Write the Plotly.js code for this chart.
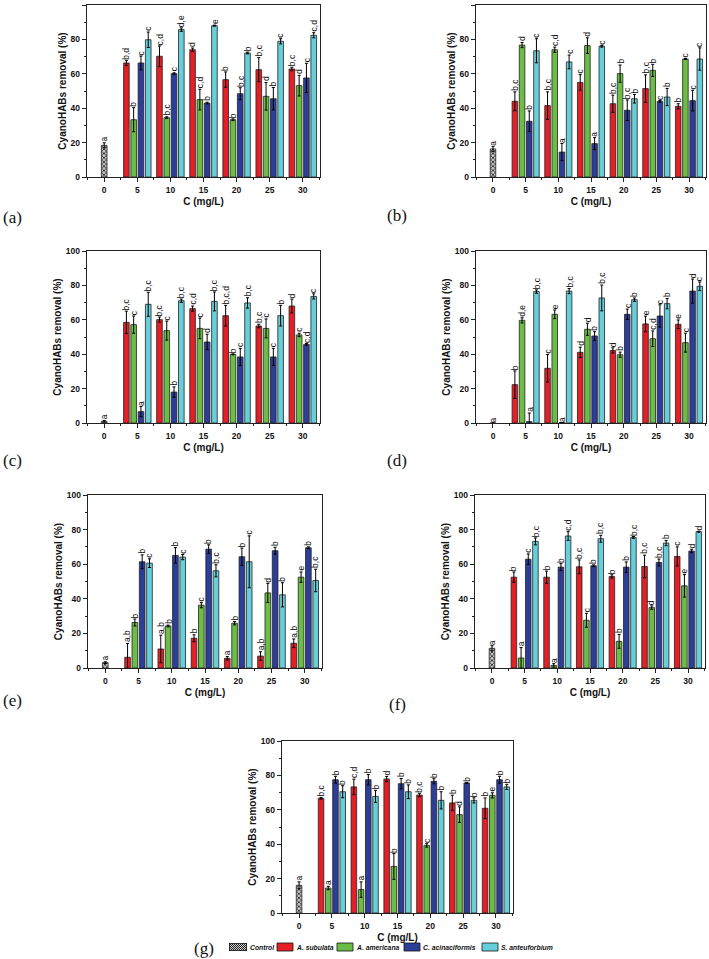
<!DOCTYPE html>
<html>
<head>
<meta charset="utf-8">
<script src="https://cdn.plot.ly/plotly-3.0.1.min.js"></script>
<style>
  html, body { margin: 0; padding: 0; background: #fff; }
  #chart { width: 709px; height: 959px; }
</style>
</head>
<body>
<div id="chart"></div>
<script>
// ---------------- DATA ----------------
const seriesNames = ['A. subulata', 'A. americana', 'C. acinaciformis', 'S. anteuforbium'];
const controlName = 'Control';
const concentrations = [5, 10, 15, 20, 25, 30];
const xTicks = [0, 5, 10, 15, 20, 25, 30];
const panelLabels = ['(a)', '(b)', '(c)', '(d)', '(e)', '(f)', '(g)'];

// Panel (a)
const a_ctrl = [18.4], a_ctrlErr = [1.5], a_ctrlSig = ['a'];
const a_sub = [66.3, 70.2, 74.0, 56.6, 62.4, 62.8], a_subErr = [1.5, 6, 1, 4.5, 7, 1], a_subSig = ['b,d', 'c,d', 'd', 'b', 'b,c', 'b,c'];
const a_ame = [33.3, 34.5, 45.0, 33.3, 46.9, 53.1], a_ameErr = [7, 0.5, 6, 0.5, 8, 6], a_ameSig = ['b', 'b,c', 'c,d', 'b', 'd', 'd'];
const a_aci = [66.3, 60.1, 43.0, 48.4, 45.5, 57.6], a_aciErr = [4, 0.5, 0.5, 3.5, 6.5, 8.5], a_aciSig = ['c', 'c', 'b', 'b,c', 'b', 'c'];
const a_ant = [79.8, 85.7, 88.0, 72.1, 78.9, 82.4], a_antErr = [4.5, 1, 0.3, 0.5, 1.5, 1.5], a_antSig = ['c', 'd,e', 'e', 'b', 'c', 'c,d'];

// Panel (b)
const b_ctrl = [16.3], b_ctrlErr = [1.5], b_ctrlSig = ['a'];
const b_sub = [44.0, 41.5, 55.0, 42.6, 51.4, 41.1], b_subErr = [5.5, 8, 4.5, 5, 8, 1.5], b_subSig = ['b,c', 'b,c', 'c', 'b,c', 'b,c', 'b'];
const b_ame = [76.7, 74.0, 76.4, 60.1, 62.0, 68.6], b_ameErr = [1.5, 1.5, 4.5, 5, 3.5, 0.3], b_ameSig = ['d', 'c,d', 'd', 'b', 'b', 'c'];
const b_aci = [32.4, 14.5, 19.4, 38.8, 44.0, 44.4], b_aciErr = [6, 5, 3.5, 6, 0.5, 6], b_aciSig = ['b', 'a', 'a', 'b,c', 'c', 'c'];
const b_ant = [73.4, 66.9, 76.0, 45.5, 46.5, 68.6], b_antErr = [7, 4, 0.5, 2.5, 5, 6.5], b_antSig = ['c', 'c', 'c', 'b', 'b', 'c'];

// Panel (c)
const c_ctrl = [1.0], c_ctrlErr = [0.5], c_ctrlSig = ['a'];
const c_sub = [58.5, 60.1, 66.5, 62.4, 56.4, 68.0], c_subErr = [6.5, 1.5, 1.5, 6, 1, 4], c_subSig = ['b,c', 'b,c', 'c,d', 'b,c,d', 'b,c', 'd'];
const c_ame = [57.2, 53.7, 55.0, 39.9, 55.0, 51.2], c_ameErr = [5, 5.5, 6, 0.3, 5.5, 1], c_ameSig = ['c', 'c', 'c', 'b', 'c', 'c'];
const c_aci = [6.6, 18.0, 47.1, 38.4, 38.4, 45.7], c_aciErr = [3, 3, 4.5, 5, 5, 0.5], c_aciSig = ['a', 'b', 'd', 'c', 'c', 'c,d'];
const c_ant = [69.0, 71.1, 70.7, 69.8, 62.4, 73.6], c_antErr = [7, 1, 5.5, 3, 6, 1.5], c_antSig = ['b,c', 'b,c', 'b,c', 'b,c', 'b', 'c'];

// Panel (d)
const d_ctrl = [0], d_ctrlErr = [0], d_ctrlSig = ['a'];
const d_sub = [22.3, 31.8, 41.1, 42.2, 57.6, 57.4], d_subErr = [8, 8, 3, 1.5, 4.5, 2.5], d_subSig = ['b', 'c', 'd', 'd', 'e', 'e'];
const d_ame = [59.7, 63.2, 54.5, 39.7, 49.0, 46.7], d_ameErr = [1.5, 2.5, 3.5, 1.5, 4.5, 5.5], d_ameSig = ['d,e', 'e', 'd', 'b', 'c,d', 'c'];
const d_aci = [0.8, 0.3, 50.6, 63.2, 62.2, 76.7], d_aciErr = [5, 0, 2.5, 3, 6.5, 7], d_aciSig = ['a', 'a', 'b', 'c', 'c', 'd'];
const d_ant = [76.4, 76.7, 72.7, 71.7, 69.4, 79.5], d_antErr = [1, 1.5, 7.5, 1, 3, 2.5], d_antSig = ['b,c', 'b,c', 'b,c', 'b', 'b', 'c'];

// Panel (e)
const e_ctrl = [3.1], e_ctrlErr = [0.5], e_ctrlSig = ['a'];
const e_sub = [6.2, 11.0, 17.2, 5.6, 6.9, 14.3], e_subErr = [8, 8, 2, 1, 2.5, 2.5], e_subSig = ['a,b', 'a,b', 'b', 'a', 'a,b', 'a,b'];
const e_ame = [26.3, 24.3, 36.3, 25.9, 43.4, 52.5], e_ameErr = [2, 0.5, 1.5, 1, 5.5, 3], e_ameSig = ['b', 'b', 'c', 'b', 'd', 'e'];
const e_aci = [61.4, 65.1, 68.7, 64.3, 67.8, 69.5], e_aciErr = [4, 4.5, 2.5, 5, 2, 0.5], e_aciSig = ['b', 'b', 'b', 'b', 'b', 'b'];
const e_ant = [60.6, 64.1, 56.2, 61.4, 42.3, 50.6], e_antErr = [2.5, 1.5, 3.5, 15, 7, 6.5], e_antSig = ['c', 'c', 'b,c', 'c', 'b', 'b,c'];

// Panel (f)
const f_ctrl = [11.4], f_ctrlErr = [1.5], f_ctrlSig = ['a'];
const f_sub = [52.5, 52.5, 58.5, 52.9, 58.7, 64.5], f_subErr = [3, 3.5, 4, 1, 6.5, 5.5], f_subSig = ['b', 'b', 'b,c', 'b', 'b,c', 'c'];
const f_ame = [5.8, 1.5, 27.6, 15.4, 34.9, 47.5], f_ameErr = [6, 1, 4, 4, 1, 6.5], f_ameSig = ['a', 'a', 'c', 'b', 'd', 'e'];
const f_aci = [62.9, 58.3, 59.1, 58.3, 61.0, 67.6], f_aciErr = [3, 2, 0.5, 3, 2, 1], f_aciSig = ['c', 'b', 'b', 'b', 'b,c', 'd'];
const f_ant = [73.2, 76.3, 74.7, 75.5, 72.2, 78.8], f_antErr = [2, 2.5, 2, 0.5, 1.5, 0.3], f_antSig = ['b,c', 'c,d', 'b,c', 'b,c', 'b', 'd'];

// Panel (g)
const g_ctrl = [16.1], g_ctrlErr = [2], g_ctrlSig = ['a'];
const g_sub = [66.7, 73.3, 77.9, 68.6, 64.0, 60.9], g_subErr = [0.5, 4.5, 1.5, 1, 4.5, 6], g_subSig = ['b,c', 'c,d', 'd', 'b,c', 'b', 'b'];
const g_ame = [14.5, 13.6, 27.1, 39.3, 57.2, 68.4], g_ameErr = [1, 4.5, 7.5, 1, 4.5, 1.5], g_ameSig = ['a', 'a', 'b', 'c', 'd', 'e'];
const g_aci = [77.5, 77.5, 75.2, 76.6, 75.6, 77.5], g_aciErr = [2, 3, 3, 1.5, 0.3, 2], g_aciSig = ['b', 'b', 'b', 'b', 'b', 'b'];
const g_ant = [70.5, 67.8, 70.5, 65.5, 65.5, 73.3], g_antErr = [3.5, 3.5, 4, 5, 1.5, 1.5], g_antSig = ['b', 'b', 'b', 'b', 'b', 'b'];

// ---------------- STYLE / LAYOUT ----------------
const W = 709, H = 959;
const colors = ['#e41f26', '#6cbd45', '#2c3e98', '#67cfd9'];
const BW = 0.85, SLOT = 1.1;
const offsets = [-2 * SLOT + (SLOT - BW) / 2, -SLOT + (SLOT - BW) / 2, (SLOT - BW) / 2, SLOT + (SLOT - BW) / 2];
const SANS = 'Arial, "Liberation Sans", Helvetica, sans-serif';
const SERIF = '"Times New Roman", "Liberation Serif", serif';

// pixel boxes [left, right, top, bottom] and panel label centre [x, y]
const panels = [
  { box: [87, 320, 5, 177],   lab: [12, 217],  d: [a_ctrl, a_ctrlErr, a_ctrlSig, [a_sub, a_ame, a_aci, a_ant], [a_subErr, a_ameErr, a_aciErr, a_antErr], [a_subSig, a_ameSig, a_aciSig, a_antSig]] },
  { box: [476, 706, 5, 177],  lab: [397, 216], d: [b_ctrl, b_ctrlErr, b_ctrlSig, [b_sub, b_ame, b_aci, b_ant], [b_subErr, b_ameErr, b_aciErr, b_antErr], [b_subSig, b_ameSig, b_aciSig, b_antSig]] },
  { box: [87, 320, 251, 423], lab: [12, 461],  d: [c_ctrl, c_ctrlErr, c_ctrlSig, [c_sub, c_ame, c_aci, c_ant], [c_subErr, c_ameErr, c_aciErr, c_antErr], [c_subSig, c_ameSig, c_aciSig, c_antSig]] },
  { box: [476, 706, 251, 423], lab: [397, 461], d: [d_ctrl, d_ctrlErr, d_ctrlSig, [d_sub, d_ame, d_aci, d_ant], [d_subErr, d_ameErr, d_aciErr, d_antErr], [d_subSig, d_ameSig, d_aciSig, d_antSig]] },
  { box: [88, 322, 495, 668], lab: [12, 700],  d: [e_ctrl, e_ctrlErr, e_ctrlSig, [e_sub, e_ame, e_aci, e_ant], [e_subErr, e_ameErr, e_aciErr, e_antErr], [e_subSig, e_ameSig, e_aciSig, e_antSig]] },
  { box: [475, 705, 495, 668], lab: [397, 704], d: [f_ctrl, f_ctrlErr, f_ctrlSig, [f_sub, f_ame, f_aci, f_ant], [f_subErr, f_ameErr, f_aciErr, f_antErr], [f_subSig, f_ameSig, f_aciSig, f_antSig]] },
  { box: [282, 513, 741, 913], lab: [204, 948], d: [g_ctrl, g_ctrlErr, g_ctrlSig, [g_sub, g_ame, g_aci, g_ant], [g_subErr, g_ameErr, g_aciErr, g_antErr], [g_subSig, g_ameSig, g_aciSig, g_antSig]] }
];

const traces = [];
const annotations = [];
const layout = {
  width: W, height: H,
  margin: { l: 0, r: 0, t: 0, b: 0 },
  paper_bgcolor: '#fff', plot_bgcolor: '#fff',
  barmode: 'overlay',
  showlegend: false,
  font: { family: SANS, color: '#111' },
  shapes: [], images: []
};

const tickFont = { family: SANS, size: 8.5, weight: 'bold', color: '#111' };
const titleFont = { family: SANS, size: 10, weight: 'bold', color: '#111' };
const sigFont = { family: SANS, size: 8.5, color: '#111' };

panels.forEach((p, i) => {
  const k = i + 1;
  const xa = k === 1 ? 'x' : 'x' + k;
  const ya = k === 1 ? 'y' : 'y' + k;
  const [ctrl, ctrlErr, ctrlSig, vals, errs, sigs] = p.d;
  const [l, r, t, b] = p.box;

  layout[k === 1 ? 'xaxis' : 'xaxis' + k] = {
    domain: [l / W, r / W], anchor: ya,
    range: [-2.6, 32.6], tickvals: xTicks, ticktext: xTicks.map(String),
    ticks: 'outside', ticklen: 4, tickwidth: 1, tickcolor: '#222',
    minor: { ticks: 'outside', ticklen: 2, tickwidth: 1, tickcolor: '#222', dtick: 2.5, tick0: 0 },
    showline: true, mirror: true, linecolor: '#222', linewidth: 1.3,
    showgrid: false, zeroline: false, tickfont: tickFont,
    title: { text: 'C (mg/L)', font: titleFont, standoff: 4 }
  };
  layout[k === 1 ? 'yaxis' : 'yaxis' + k] = {
    domain: [1 - b / H, 1 - t / H], anchor: xa,
    range: [0, 100], dtick: 20, tick0: 0,
    ticks: 'outside', ticklen: 4, tickwidth: 1, tickcolor: '#222',
    minor: { ticks: 'outside', ticklen: 2, tickwidth: 1, tickcolor: '#222', dtick: 10, tick0: 0 },
    showline: true, mirror: true, linecolor: '#222', linewidth: 1.3,
    showgrid: false, zeroline: false, tickfont: tickFont,
    title: { text: 'CyanoHABs removal (%)', font: titleFont, standoff: 2 }
  };

  // control bar
  traces.push({
    type: 'bar', x: [0], y: ctrl, name: controlName, xaxis: xa, yaxis: ya,
    offset: -BW / 2, width: BW,
    marker: { color: '#bbb', line: { color: '#222', width: 0.8 },
              pattern: { shape: 'x', size: 3, solidity: 0.45, fgcolor: '#1a1a1a', bgcolor: '#c8c8c8' } },
    error_y: { type: 'data', array: ctrlErr, visible: true, color: '#000', thickness: 1, width: 1.5 },
    hoverinfo: 'skip'
  });
  annotations.push({
    xref: xa, yref: ya, x: 0, y: ctrl[0] + ctrlErr[0], text: ctrlSig[0],
    textangle: -90, showarrow: false, xanchor: 'center', yanchor: 'bottom',
    font: sigFont, borderpad: 0
  });

  // species bars
  vals.forEach((v, s) => {
    traces.push({
      type: 'bar', x: concentrations, y: v, name: seriesNames[s], xaxis: xa, yaxis: ya,
      offset: offsets[s], width: BW,
      marker: { color: colors[s], line: { color: '#222', width: 0.8 } },
      error_y: { type: 'data', array: errs[s], visible: true, color: '#000', thickness: 1, width: 1.5 },
      hoverinfo: 'skip'
    });
    concentrations.forEach((c, j) => {
      annotations.push({
        xref: xa, yref: ya, x: c + offsets[s] + BW / 2, y: v[j] + errs[s][j],
        text: sigs[s][j], textangle: -90, showarrow: false,
        xanchor: 'center', yanchor: 'bottom', font: sigFont, borderpad: 0
      });
    });
  });

  // panel label
  annotations.push({
    xref: 'paper', yref: 'paper', x: p.lab[0] / W, y: 1 - p.lab[1] / H,
    text: panelLabels[i], showarrow: false, xanchor: 'center', yanchor: 'middle',
    font: { family: SERIF, size: 17, color: '#111' }
  });
});

// ---------------- custom legend under panel (g) ----------------
const legendY = 947;
const swatches = [[229, 247], [277, 293], [337, 353], [404, 420], [482, 498]];
const legendNames = [controlName].concat(seriesNames);
const hatchSvg = '<svg xmlns="http://www.w3.org/2000/svg" width="36" height="16" viewBox="0 0 18 8">' +
  '<defs><pattern id="p" width="2" height="2" patternUnits="userSpaceOnUse">' +
  '<rect width="2" height="2" fill="#d0d0d0"/><rect width="1" height="1" fill="#222"/><rect x="1" y="1" width="1" height="1" fill="#222"/></pattern></defs>' +
  '<rect x="0.4" y="0.4" width="17.2" height="7.2" fill="url(#p)" stroke="#111" stroke-width="0.8"/></svg>';
swatches.forEach((sw, i) => {
  const y0 = 1 - (legendY + 4) / H, y1 = 1 - (legendY - 4) / H;
  if (i === 0) {
    layout.images.push({
      source: 'data:image/svg+xml;charset=utf-8,' + encodeURIComponent(hatchSvg),
      xref: 'paper', yref: 'paper', x: sw[0] / W, y: y1,
      sizex: (sw[1] - sw[0]) / W, sizey: y1 - y0,
      xanchor: 'left', yanchor: 'top', sizing: 'stretch', layer: 'above'
    });
  } else {
    layout.shapes.push({
      type: 'rect', xref: 'paper', yref: 'paper',
      x0: sw[0] / W, x1: sw[1] / W, y0: y0, y1: y1,
      fillcolor: colors[i - 1], line: { color: '#111', width: 0.8 }
    });
  }
  annotations.push({
    xref: 'paper', yref: 'paper', x: (sw[1] + 1.5) / W, y: 1 - legendY / H,
    text: legendNames[i], showarrow: false, xanchor: 'left', yanchor: 'middle',
    borderpad: 0, font: { family: SANS, size: 6.8, weight: 'bold', style: 'italic', color: '#111' }
  });
});

layout.annotations = annotations;
Plotly.newPlot('chart', traces, layout, { staticPlot: true, displayModeBar: false });
</script>
</body>
</html>
